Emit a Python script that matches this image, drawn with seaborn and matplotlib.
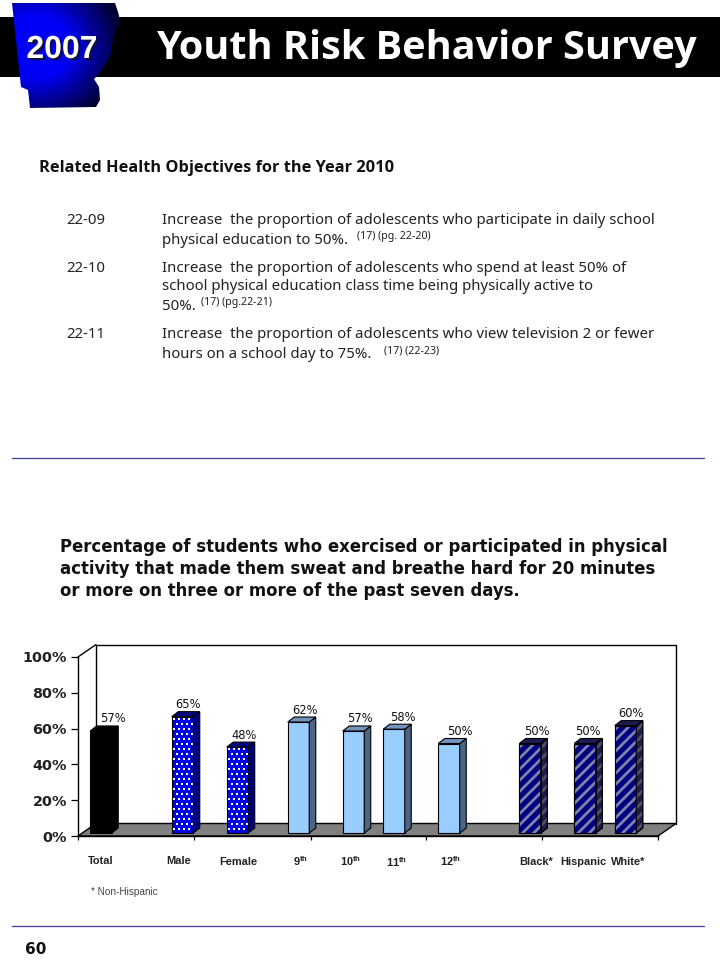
import matplotlib
matplotlib.use("Agg")
import matplotlib.patheffects as pe
import matplotlib.pyplot as plt
import numpy as np
import pandas as pd
import seaborn as sns
from matplotlib.patches import Polygon, Rectangle

categories = ["Total", "Male", "Female", "9th", "10th", "11th", "12th", "Black*", "Hispanic", "White*"]
values = [57, 65, 48, 62, 57, 58, 50, 50, 50, 60]
groups = ["total", "sex", "sex", "grade", "grade", "grade", "grade", "race", "race", "race"]
y_ticks = [0, 20, 40, 60, 80, 100]
tick_labels = ["0%", "20%", "40%", "60%", "80%", "100%"]
axis_labels = ["Total", "Male", "Female", "9$^{th}$", "10$^{th}$", "11$^{th}$", "12$^{th}$",
               "Black*", "Hispanic", "White*"]

# layout, all in page pixels
bar_centers = [101, 182.5, 237.5, 298.5, 353.5, 394, 449, 530, 585, 625.5]
label_x = [101, 179, 238, 301, 351, 397, 451, 536, 583.5, 628]
label_y = [861, 861, 862, 861, 861, 862, 861, 862, 862, 862]
value_dx = [12, 6, 6.5, 6, 6.5, 9, 11, 7, 3, 5]
group_ticks = [78, 194, 310.6, 425.7, 542, 658]
BAR_W = 21.5
AX_L, AX_R, AX_TOP, AX_BOT = 78, 658, 657, 836
PX_PER_UNIT = (AX_BOT - AX_TOP) / 100
FLOOR = 3 / PX_PER_UNIT
DX, DY = 6.5, 5 / PX_PER_UNIT
WALL_X, WALL_Y = 18, 12.5 / PX_PER_UNIT

styles = {
    "total": dict(front="#000000", side="#000000", top="#000000"),
    "sex": dict(front="#0000e6", side="#000080", top="#000080"),
    "grade": dict(front="#99ccff", side="#4d6585", top="#7395bd"),
    "race": dict(front="#000080", side="#1c1c50", top="#1c1c50", hatch="#7f82ab", hatch_side="#50506e"),
}

sns.set_theme(style="white")
plt.rcParams["font.family"] = ["DejaVu Sans"]
plt.rcParams["hatch.linewidth"] = 2.0
plt.rcParams["mathtext.default"] = "regular"

fig = plt.figure(figsize=(7.2, 9.6), dpi=100)

# page layer, addressed in pixels
page = fig.add_axes([0, 0, 1, 1])
page.set_xlim(0, 720)
page.set_ylim(960, 0)
page.axis("off")

page.add_patch(Rectangle((0, 17), 720, 60, color="black", lw=0))
outline = [(12, 3), (115, 3), (118, 12), (120, 20), (114, 36), (112, 46), (110, 57), (103, 68),
           (99, 74), (94, 79), (99, 87), (100, 100), (96, 107), (30, 108), (28, 90), (21, 87)]
state = Polygon(outline, closed=True, facecolor="none", edgecolor="none")
page.add_patch(state)
gx, gy = np.meshgrid(np.linspace(0, 1, 120), np.linspace(0, 1, 110))
glow = np.clip(1 - np.hypot((gx - 0.3) / 0.72, (gy - 0.42) / 0.72), 0, 1)
shade = np.dstack([np.zeros_like(glow), np.zeros_like(glow), 0.2 + 0.85 * np.clip(glow * 1.5, 0, 0.9)])
grad = page.imshow(shade, extent=(0, 120, 110, 0), aspect="auto", zorder=1)
grad.set_clip_path(state)
page.set_xlim(0, 720)
page.set_ylim(960, 0)

page.text(62, 50, "2007", color="white", fontsize=23, ha="center", va="center", zorder=3,
          family="Liberation Sans", fontweight="bold",
          path_effects=[pe.withSimplePatchShadow(offset=(1.5, -1.5), shadow_rgbFace="#101040", alpha=1)])
page.text(697, 48, "Youth Risk Behavior Survey", color="white", fontsize=28.5, fontweight="bold",
          family="Open Sans", ha="right", va="center", zorder=3)

page.text(39, 168, "Related Health Objectives for the Year 2010", fontsize=11.8, fontweight="bold",
          family="Open Sans", va="center", color="#111111")

body = [
    (66, 220, "22-09", 10.75), (162, 220, "Increase  the proportion of adolescents who participate in daily school", 10.75),
    (162, 240, "physical education to 50%.", 10.75), (357, 237, "(17) (pg. 22-20)", 7.6),
    (66, 268, "22-10", 10.75), (162, 268, "Increase  the proportion of adolescents who spend at least 50% of", 10.75),
    (162, 287, "school physical education class time being physically active to", 10.75),
    (162, 307, "50%.", 10.75), (201, 302, "(17) (pg.22-21)", 7.6),
    (66, 335, "22-11", 10.75), (162, 335, "Increase  the proportion of adolescents who view television 2 or fewer", 10.75),
    (162, 354, "hours on a school day to 75%.", 10.75), (384, 351, "(17) (22-23)", 7.6),
]
for x, y, line, size in body:
    page.text(x, y, line, fontsize=size, family="Noto Sans", va="center", color="#222222")

for y in (458, 926):
    page.plot([12, 704], [y, y], color="#3f3f9f", lw=0.9)

chart_title = ["Percentage of students who exercised or participated in physical",
               "activity that made them sweat and breathe hard for 20 minutes",
               "or more on three or more of the past seven days."]
for y, line in zip((547, 569, 591), chart_title):
    page.text(60, y, line, fontsize=11.9, fontweight="bold", va="center", color="#111111")

for x, y, label in zip(label_x, label_y, axis_labels):
    page.text(x, y, label, fontsize=7.9, fontweight="bold", family="Liberation Sans",
              ha="center", va="center", color="#222222")
page.text(91, 892, "* Non-Hispanic", fontsize=7.2, family="Liberation Sans", va="center", color="#444444")
page.text(36, 949, "60", fontsize=11, fontweight="bold", ha="center", va="center", color="#111111")

# chart layer: x in page pixels, y in percent
ax = fig.add_axes([AX_L / 720, 1 - AX_BOT / 960, (AX_R - AX_L) / 720, (AX_BOT - AX_TOP) / 960])
ax.patch.set_alpha(0)

df = pd.DataFrame({"center": bar_centers, "value": values, "category": categories, "group": groups})
palette = {c: styles[g]["front"] for c, g in zip(categories, groups)}
sns.barplot(data=df, x="center", y="value", hue="category", palette=palette, native_scale=True,
            dodge=False, legend=False, saturation=1, width=BAR_W / np.diff(bar_centers).min(),
            edgecolor="black", linewidth=0.8, ax=ax, zorder=4)

ax.set_xlim(AX_L, AX_R)
ax.set_ylim(0, 100)
ax.set_xlabel("")
ax.set_ylabel("")
ax.set_yticks(y_ticks, tick_labels, fontsize=10.4, fontweight="bold", color="#222222")
ax.set_xticks(group_ticks, [""] * len(group_ticks))
ax.tick_params(axis="y", length=5, width=0.9, color="black", pad=3, left=True)
ax.tick_params(axis="x", length=3, width=0.9, color="black", bottom=True)
for name in ("top", "right"):
    ax.spines[name].set_visible(False)
for name in ("left", "bottom"):
    ax.spines[name].set_visible(True)
    ax.spines[name].set_color("black")
    ax.spines[name].set_linewidth(1)

floor = Polygon([(AX_L, 0), (AX_L + WALL_X, WALL_Y), (AX_R + WALL_X, WALL_Y), (AX_R, 0)],
                facecolor="#808080", edgecolor="black", lw=1, clip_on=False, zorder=1)
ax.add_patch(floor)
ax.plot([AX_L + WALL_X, AX_L + WALL_X, AX_R + WALL_X, AX_R + WALL_X], [WALL_Y, 100 + WALL_Y, 100 + WALL_Y, WALL_Y],
        color="black", lw=1, clip_on=False, zorder=2)
ax.plot([AX_L, AX_L + WALL_X], [100, 100 + WALL_Y], color="black", lw=1, clip_on=False, zorder=2)


def add_dots(xs, ys, size):
    ax.scatter(xs.ravel(), ys.ravel(), s=size, c="white", linewidths=0, marker="s", zorder=6, clip_on=False)


for bar, group, value, dx in zip(ax.patches, groups, values, value_dx):
    style = styles[group]
    left = bar.get_x()
    right = left + bar.get_width()
    bar.set_y(FLOOR)
    top = value + FLOOR
    side = [(right, FLOOR), (right + DX, FLOOR + DY), (right + DX, top + DY), (right, top)]
    lid = [(left, top), (left + DX, top + DY), (right + DX, top + DY), (right, top)]
    ax.add_patch(Polygon(side, facecolor=style["side"], edgecolor="black", lw=0.8, zorder=4, clip_on=False))
    ax.add_patch(Polygon(lid, facecolor=style["top"], edgecolor="black", lw=0.8, zorder=4, clip_on=False))
    if group == "race":
        ax.add_patch(Rectangle((left, FLOOR), right - left, value, fill=False, hatch="///",
                               edgecolor=style["hatch"], lw=0, zorder=5))
        ax.add_patch(Polygon(side, fill=False, hatch="///", edgecolor=style["hatch_side"], lw=0, zorder=5,
                             clip_on=False))
        ax.add_patch(Rectangle((left, FLOOR), right - left, value, fill=False, edgecolor="black", lw=0.8, zorder=6))
        ax.add_patch(Polygon(side, fill=False, edgecolor="black", lw=0.8, zorder=6, clip_on=False))
    if group == "sex":
        rows = np.arange(FLOOR + 2, top - 0.5, 5 / PX_PER_UNIT)
        cols = np.arange(left + 2.5, right - 1, 5)
        xs, ys = np.meshgrid(cols, rows)
        xs = xs + (np.arange(len(rows)) % 2)[:, None] * 2.5
        keep = xs < right - 0.8
        add_dots(xs[keep], ys[keep], 0.7)
    ax.annotate(f"{value}%", (left + (right - left) / 2, top), xytext=(dx * 0.72, 12 * 0.72), textcoords="offset points",
                ha="center", va="center", fontsize=8.3, color="#111111", zorder=7, annotation_clip=False)

fig.savefig("out.png", dpi=100)
